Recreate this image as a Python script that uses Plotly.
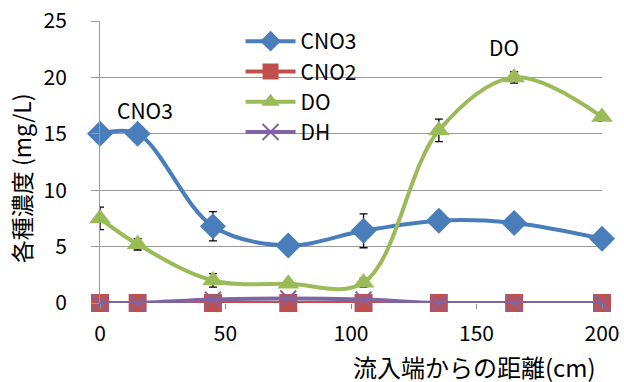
import plotly.graph_objects as go

x = [0, 15, 45, 75, 105, 135, 165, 200]
cno3 = [15.0, 15.0, 6.8, 5.1, 6.4, 7.3, 7.1, 5.7]
cno3_err = [0, 0, 1.3, 0.5, 1.5, 0.7, 0.5, 0.3]
cno2 = [0, 0, 0, 0, 0, 0, 0, 0]
do = [7.5, 5.2, 2.0, 1.7, 1.8, 15.3, 20.0, 16.5]
do_err = [1.0, 0.5, 0.6, 0.3, 0.4, 1.0, 0.5, 0.4]
dh = [0, 0, 0.3, 0.4, 0.3, 0, 0, 0]

FONT = "Noto Sans CJK JP"

fig = go.Figure()

def add(name, y, color, symbol, size, err=None):
    kw = {}
    if err is not None:
        kw["error_y"] = dict(type="data", array=err, visible=True, color="black",
                             thickness=1.3, width=4)
    fig.add_trace(go.Scatter(
        x=x, y=y, name=name, mode="lines+markers",
        line=dict(color=color, width=4, shape="spline", smoothing=1.0),
        marker=dict(color=color, symbol=symbol, size=size,
                    line=dict(width=0)),
        cliponaxis=False, **kw))

add("CNO3", cno3, "#4a7ebb", "diamond", 20, cno3_err)
add("CNO2", cno2, "#c0504d", "square", 18)
add("DO", do, "#9bbb59", "triangle-up", 19, do_err)
add("DH", dh, "#8064a2", "x-thin", 16)
fig.data[3].marker.line = dict(width=2, color="#8064a2")

fig.add_annotation(x=18, y=15.6, text="CNO3", showarrow=False, yanchor="bottom",
                   font=dict(size=21, family=FONT, color="black"))
fig.add_annotation(x=161, y=21.2, text="DO", showarrow=False, yanchor="bottom",
                   font=dict(size=21, family=FONT, color="black"))
# x-axis title
fig.add_annotation(xref="paper", yref="paper", x=0.992, y=-0.224, xanchor="right",
                   yanchor="middle", text="流入端からの距離(cm)", showarrow=False,
                   font=dict(size=24, family=FONT, color="black"))
# y-axis title
fig.add_annotation(xref="paper", yref="paper", x=-0.157, y=0.443, xanchor="center",
                   yanchor="middle", textangle=-90, text="各種濃度 (mg/L)",
                   showarrow=False, font=dict(size=23, family=FONT, color="black"))

fig.update_layout(
    width=624, height=382,
    margin=dict(l=100, r=22, t=21, b=79, autoexpand=False),
    paper_bgcolor="white", plot_bgcolor="white",
    font=dict(family=FONT, size=21, color="black"),
    showlegend=True,
    legend=dict(x=0.28, y=1.0, xanchor="left", yanchor="top",
                bgcolor="rgba(255,255,255,0)", font=dict(size=21),
                itemwidth=50, tracegroupgap=0),
    xaxis=dict(range=[0, 200], tickvals=[0, 50, 100, 150, 200], showgrid=False,
               zeroline=False, showline=False, ticks="outside", ticklen=5,
               tickcolor="#888", tickfont=dict(size=21), automargin=False,
               ticklabelstandoff=7),
    yaxis=dict(range=[0, 25], dtick=5, showgrid=True, gridcolor="#999",
               gridwidth=1, zeroline=False, showline=True, linecolor="#999",
               ticks="outside", ticklen=8, tickcolor="#999",
               tickfont=dict(size=21), automargin=False, ticklabelstandoff=20),
)

fig.write_html("out.html", config={"displayModeBar": False},
               post_script="document.body.style.margin='0';")
